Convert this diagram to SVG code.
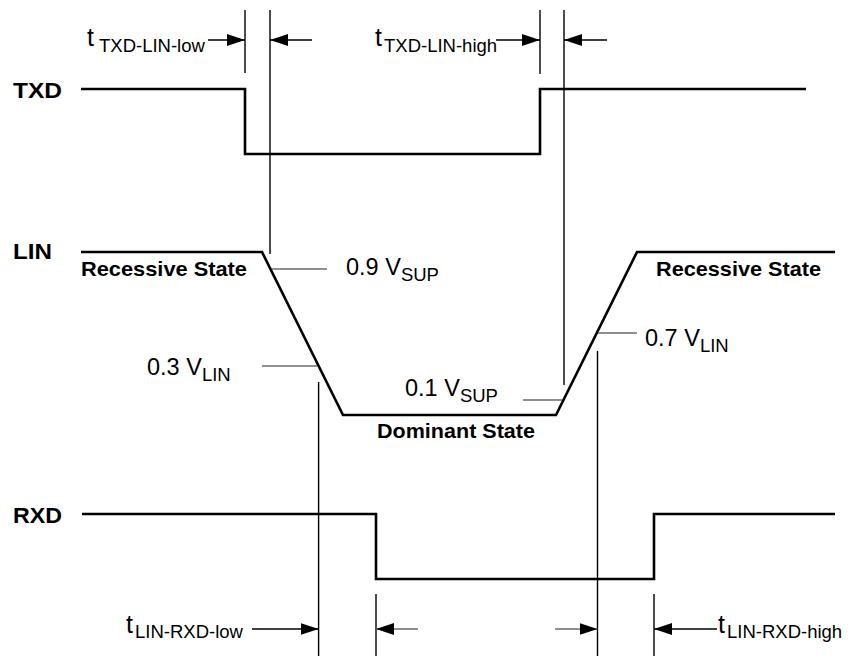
<svg xmlns="http://www.w3.org/2000/svg" width="851" height="656" viewBox="0 0 851 656">
<style>
text{font-family:"Liberation Sans",Arial,sans-serif;fill:#000}
.sig{font-weight:bold;font-size:22.5px}
.state{font-weight:bold;font-size:20.5px}
.val{font-size:23.5px}
.tt{font-size:25px}
.sub{font-size:18.5px}
.wave{fill:none;stroke:#000;stroke-width:2.6;stroke-linejoin:miter}
.vl{stroke:#000;stroke-width:1.4;fill:none}
.tick{stroke:#6a6a6a;stroke-width:1.5;fill:none}
.arr{stroke:#000;stroke-width:1.4;fill:none;marker-end:url(#ah)}
.arrg{stroke:#6a6a6a;stroke-width:1.5;fill:none;marker-end:url(#ah)}
</style>
<defs>
<marker id="ah" markerUnits="userSpaceOnUse" markerWidth="18" markerHeight="12" refX="18" refY="6" orient="auto">
<path d="M0,0 L18,6 L0,12 Z" fill="#000"/>
</marker>
</defs>
<rect width="851" height="656" fill="#fff"/>

<g id="txd">
<text class="sig" x="13" y="98" textLength="49" lengthAdjust="spacingAndGlyphs">TXD</text>
<path class="wave" d="M81,89 H245 V154 H540 V89 H806"/>
</g>

<g id="lin">
<text class="sig" x="13" y="259" textLength="39" lengthAdjust="spacingAndGlyphs">LIN</text>
<path class="wave" d="M81,252 H262 L343,415 H556 L637,252 H835"/>
<text class="state" x="81" y="276" textLength="166" lengthAdjust="spacingAndGlyphs">Recessive State</text>
<text class="state" x="656" y="276" textLength="165" lengthAdjust="spacingAndGlyphs">Recessive State</text>
<text class="state" x="377" y="438" textLength="158" lengthAdjust="spacingAndGlyphs">Dominant State</text>
</g>

<g id="rxd">
<text class="sig" x="13" y="523" textLength="49" lengthAdjust="spacingAndGlyphs">RXD</text>
<path class="wave" d="M82,514 H376 V579 H654 V514 H835"/>
</g>

<g id="levels">
<line class="tick" x1="272" y1="269" x2="327" y2="269"/>
<text class="val" x="346" y="275">0.9 V<tspan class="sub" dy="6">SUP</tspan></text>
<line class="tick" x1="262" y1="366" x2="317" y2="366"/>
<text class="val" x="147" y="375">0.3 V<tspan class="sub" dy="6">LIN</tspan></text>
<line class="tick" x1="598" y1="333" x2="637" y2="333"/>
<text class="val" x="645" y="346">0.7 V<tspan class="sub" dy="6">LIN</tspan></text>
<line class="tick" x1="523" y1="400" x2="562" y2="400"/>
<text class="val" x="405" y="396">0.1 V<tspan class="sub" dy="6">SUP</tspan></text>
</g>

<g id="connectors">
<line class="vl" x1="245" y1="10" x2="245" y2="73"/>
<line class="vl" x1="270" y1="10" x2="270" y2="254"/>
<line class="vl" x1="540" y1="10" x2="540" y2="74"/>
<line class="vl" x1="564" y1="10" x2="564" y2="385"/>
<line class="vl" x1="318.6" y1="382" x2="318.6" y2="656"/>
<line class="vl" x1="376" y1="594" x2="376" y2="656"/>
<line class="vl" x1="597.5" y1="351" x2="597.5" y2="656"/>
<line class="vl" x1="654" y1="594" x2="654" y2="656"/>

<line class="arr" x1="208" y1="40" x2="245" y2="40"/>
<line class="arr" x1="312" y1="40" x2="270" y2="40"/>
<line class="arr" x1="496" y1="40" x2="540" y2="40"/>
<line class="arr" x1="607" y1="40" x2="564" y2="40"/>
<line class="arr" x1="252" y1="629" x2="318.6" y2="629"/>
<line class="arrg" x1="418" y1="629" x2="376" y2="629"/>
<line class="arrg" x1="555" y1="629" x2="597.5" y2="629"/>
<line class="arr" x1="717" y1="629" x2="654" y2="629"/>
</g>

<g id="timing-labels">
<text class="tt" x="87" y="46">t<tspan class="sub" x="99" y="52">TXD-LIN-low</tspan></text>
<text class="tt" x="375" y="46">t<tspan class="sub" x="384" y="52">TXD-LIN-high</tspan></text>
<text class="tt" x="126" y="633">t<tspan class="sub" x="135" y="638">LIN-RXD-low</tspan></text>
<text class="tt" x="718" y="633">t<tspan class="sub" x="727" y="638">LIN-RXD-high</tspan></text>
</g>
</svg>
